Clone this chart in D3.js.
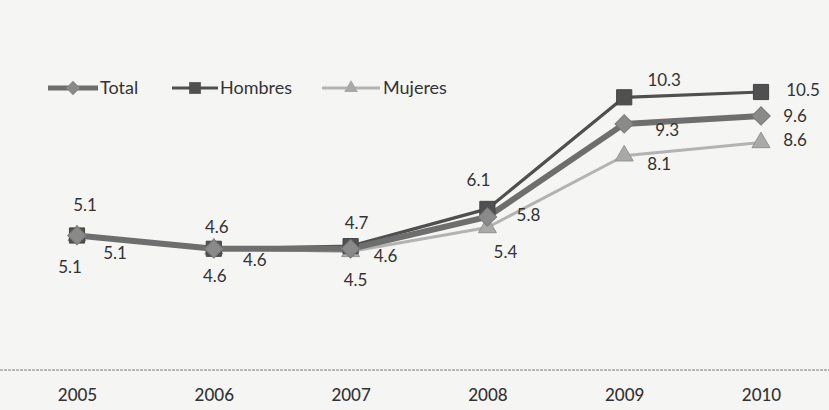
<!DOCTYPE html>
<html><head><meta charset="utf-8">
<script src="https://cdn.jsdelivr.net/npm/d3@7"></script>
<style>
html,body{margin:0;padding:0;background:#f5f5f3;}
svg{display:block;}
text{font-family:Lato,"Open Sans",sans-serif;}
</style></head>
<body>
<svg id="chart" width="829" height="410"></svg>
<script>
const years = ["2005","2006","2007","2008","2009","2010"];
const total   = [5.1, 4.6, 4.6, 5.8, 9.3, 9.6];
const hombres = [5.1, 4.6, 4.7, 6.1, 10.3, 10.5];
const mujeres = [5.1, 4.6, 4.5, 5.4, 8.1, 8.6];
const seriesNames = ["Total","Hombres","Mujeres"];

const svg = d3.select("#chart");
const W = 829, H = 410;
const x = d3.scalePoint().domain(years).range([77, 761]);
const y = d3.scaleLinear().domain([0, 10.5]).range([371, 92]);

// label offsets (layout only)
const labelOff = {
  Hombres: [[8,-30],[3,-22],[6,-23],[-9,-29],[40,-17],[42,-2]],
  Total:   [[38,18],[41,11],[35,7],[41,-2],[43,6],[34,0]],
  Mujeres: [[-7,32],[1,27],[5,29],[18,25],[35,8],[34,-2]]
};

const styles = {
  Hombres: {stroke:"#4f4f4f", width:3.2, fill:"#505050", sym:d3.symbolSquare, size:230, rot:0},
  Total:   {stroke:"#6e6e6e", width:6, fill:"#8a8a8a", sym:d3.symbolSquare, size:170, rot:45},
  Mujeres: {stroke:"#b3b3b3", width:3, fill:"#a9a9a9", sym:d3.symbolTriangle, size:140, rot:0}
};
const data = {Total: total, Hombres: hombres, Mujeres: mujeres};

// axis
const axis = d3.axisBottom(x).tickSize(0).tickPadding(19);
const gAx = svg.append("g").attr("transform","translate(0,370)").call(axis);
gAx.select(".domain").remove();
svg.append("line").attr("x1",0).attr("x2",W).attr("y1",370).attr("y2",370)
  .attr("stroke","#7a7a7a").attr("stroke-width",1.2).attr("stroke-dasharray","3,1");
gAx.selectAll("text").attr("font-size",17).attr("fill","#333").attr("font-weight",500);

const line = d3.line().x((d,i)=>x(years[i])).y(d=>y(d));

["Mujeres","Hombres","Total"].forEach(name=>{
  const s = styles[name], vals = data[name];
  svg.append("path").datum(vals).attr("d",line).attr("fill","none")
    .attr("stroke",s.stroke).attr("stroke-width",s.width).attr("stroke-linejoin","round");
});
["Mujeres","Hombres","Total"].forEach(name=>{
  const s = styles[name], vals = data[name];
  svg.selectAll(null).data(vals).enter().append("path")
    .attr("d",d3.symbol().type(s.sym).size(s.size))
    .attr("transform",(d,i)=>`translate(${x(years[i])},${y(d)}) rotate(${s.rot})`)
    .attr("fill",s.fill).attr("stroke",d3.color(s.fill).darker(0.4)).attr("stroke-width",1);
});
seriesNames.forEach(name=>{
  const vals = data[name];
  svg.selectAll(null).data(vals).enter().append("text")
    .attr("x",(d,i)=>x(years[i])+labelOff[name][i][0])
    .attr("y",(d,i)=>y(d)+labelOff[name][i][1])
    .attr("dy","0.35em").attr("text-anchor","middle")
    .attr("font-size",17).attr("fill","#333")
    .text(d=>d3.format(".1f")(d));
});

// legend
const legend = [
  {name:"Total", x1:48, x2:98, tx:100},
  {name:"Hombres", x1:172, x2:218, tx:220},
  {name:"Mujeres", x1:322, x2:380, tx:383}
];
legend.forEach(l=>{
  const s = styles[l.name];
  svg.append("line").attr("x1",l.x1).attr("x2",l.x2).attr("y1",88).attr("y2",88)
    .attr("stroke",s.stroke).attr("stroke-width",l.name==="Total"?5:3);
  svg.append("path").attr("d",d3.symbol().type(s.sym).size(s.size*0.6))
    .attr("transform",`translate(${(l.x1+l.x2)/2},88) rotate(${s.rot})`).attr("fill",s.fill);
  svg.append("text").attr("x",l.tx).attr("y",88).attr("dy","0.35em")
    .attr("font-size",18).attr("fill","#333").text(l.name);
});
</script>
</body></html>
